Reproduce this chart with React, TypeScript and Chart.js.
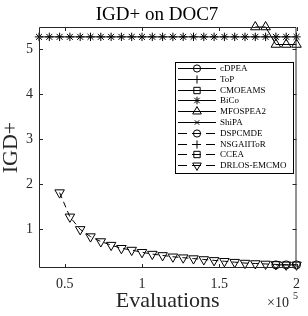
import { useEffect, useRef } from 'react';
import { Chart, registerables } from 'chart.js';
import { drawPoint } from 'chart.js/helpers';

Chart.register(...registerables);

const evaluations = [
  33333, 40000, 46667, 53333, 60000, 66667, 73333, 80000, 86667, 93333,
  100000, 106667, 113333, 120000, 126667, 133333, 140000, 146667, 153333, 160000,
  166667, 173333, 180000, 186667, 193333, 200000,
];

const cDPEA = [null, null, null, null, null, null, null, null, null, null, null, null, null, null, null, null, null, null, null, null, null, null, null, 0.2, 0.2, 0.2];
const ToP: (number | null)[] = [];
const CMOEAMS: (number | null)[] = [];
const BiCo = [5.28, 5.28, 5.28, 5.28, 5.28, 5.28, 5.28, 5.28, 5.28, 5.28, 5.28, 5.28, 5.28, 5.28, 5.28, 5.28, 5.28, 5.28, 5.28, 5.28, 5.28, 5.28, 5.28, 5.28, 5.28, 5.28];
const MFOSPEA2 = [null, null, null, null, null, null, null, null, null, null, null, null, null, null, null, null, null, null, null, null, null, 5.5, 5.5, 5.11, 5.11, 5.11];
const ShiPA: (number | null)[] = [];
const DSPCMDE: (number | null)[] = [];
const NSGAIIToR: (number | null)[] = [];
const CCEA: (number | null)[] = [];
const DRLOS_EMCMO = [null, null, 1.81, 1.27, 0.99, 0.83, 0.72, 0.64, 0.57, 0.53, 0.48, 0.44, 0.41, 0.38, 0.36, 0.34, 0.32, 0.3, 0.28, 0.26, 0.24, 0.23, 0.22, 0.21, 0.2, 0.2];

const xTicks = [50000, 100000, 150000, 200000];
const yTicks = [1, 2, 3, 4, 5];

const series = [
  { name: 'cDPEA', values: cDPEA, style: 'circle', rot: 0, r: 4, dashed: false },
  { name: 'ToP', values: ToP, style: 'cross', rot: 0, r: 4.5, dashed: false },
  { name: 'CMOEAMS', values: CMOEAMS, style: 'rect', rot: 0, r: 5, dashed: false },
  { name: 'BiCo', values: BiCo, style: 'star', rot: 0, r: 4.2, dashed: false },
  { name: 'MFOSPEA2', values: MFOSPEA2, style: 'triangle', rot: 0, r: 5.5, dashed: false },
  { name: 'ShiPA', values: ShiPA, style: 'crossRot', rot: 0, r: 3.5, dashed: false },
  { name: 'DSPCMDE', values: DSPCMDE, style: 'circle', rot: 0, r: 4, dashed: true },
  { name: 'NSGAIIToR', values: NSGAIIToR, style: 'cross', rot: 0, r: 4.5, dashed: true },
  { name: 'CCEA', values: CCEA, style: 'rect', rot: 0, r: 5, dashed: true },
  { name: 'DRLOS-EMCMO', values: DRLOS_EMCMO, style: 'triangle', rot: 180, r: 5.5, dashed: true },
];

const FONT = "'Liberation Serif', 'Times New Roman', serif";
const TXT = '#262626';

const decorPlugin = {
  id: 'decor',
  afterDatasetsDraw(chart: any) {
    const { ctx, chartArea } = chart;
    const { left, right, top, bottom } = chartArea;
    const xs = chart.scales.x;
    const ys = chart.scales.y;
    ctx.save();
    ctx.strokeStyle = TXT;
    ctx.lineWidth = 1;
    ctx.setLineDash([]);
    ctx.beginPath();
    ctx.rect(left + 0.5, top + 0.5, right - left - 1, bottom - top - 1);
    ctx.stroke();
    // inner ticks
    ctx.beginPath();
    for (const v of yTicks) {
      const py = Math.round(ys.getPixelForValue(v)) + 0.5;
      ctx.moveTo(left, py); ctx.lineTo(left + 4, py);
      ctx.moveTo(right, py); ctx.lineTo(right - 4, py);
    }
    for (const v of xTicks) {
      const px = Math.round(xs.getPixelForValue(v)) + 0.5;
      ctx.moveTo(px, bottom); ctx.lineTo(px, bottom - 4);
      ctx.moveTo(px, top); ctx.lineTo(px, top + 4);
    }
    ctx.stroke();

    // titles
    ctx.fillStyle = '#000';
    ctx.textAlign = 'center';
    ctx.textBaseline = 'alphabetic';
    ctx.font = `19px ${FONT}`;
    ctx.fillText('IGD+ on DOC7', 157, 20);
    ctx.fillStyle = TXT;
    ctx.font = `22px ${FONT}`;
    ctx.fillText('Evaluations', (left + right) / 2, 307);
    ctx.save();
    ctx.translate(17, (top + bottom) / 2);
    ctx.rotate(-Math.PI / 2);
    ctx.fillText('IGD+', 0, 0);
    ctx.restore();
    ctx.textAlign = 'left';
    ctx.font = `14px ${FONT}`;
    ctx.fillText('\u00d710', 267, 307);
    ctx.font = `10px ${FONT}`;
    ctx.fillText('5', 293, 299);

    // legend
    const lx = 175, ly = 62, lw = 118, lh = 111;
    ctx.fillStyle = '#fff';
    ctx.fillRect(lx + 0.5, ly + 0.5, lw, lh);
    ctx.strokeStyle = '#000';
    ctx.strokeRect(lx + 0.5, ly + 0.5, lw, lh);
    ctx.font = `9px ${FONT}`;
    ctx.textBaseline = 'middle';
    series.forEach((s, i) => {
      const cy = Math.round(68 + i * 10.8) + 0.5;
      ctx.strokeStyle = '#000';
      ctx.lineWidth = 1;
      ctx.setLineDash(s.dashed ? [9, 5] : []);
      ctx.beginPath();
      ctx.moveTo(178, cy);
      ctx.lineTo(216, cy);
      ctx.stroke();
      ctx.setLineDash([]);
      ctx.fillStyle = 'rgba(0,0,0,0)';
      drawPoint(ctx, { pointStyle: s.style, radius: s.r * 0.9, rotation: s.rot, borderWidth: 1 } as any, 197, cy);
      ctx.fillStyle = '#000';
      ctx.fillText(s.name, 220, cy);
    });
    ctx.restore();
  },
};

export default function App() {
  const ref = useRef<HTMLCanvasElement>(null);
  useEffect(() => {
    document.body.style.margin = '0';
    const chart = new Chart(ref.current!, {
      type: 'line',
      data: {
        datasets: series.map((s) => ({
          label: s.name,
          data: evaluations.map((x, i) => ({ x, y: s.values[i] ?? null })),
          borderColor: '#000',
          backgroundColor: 'rgba(0,0,0,0)',
          borderWidth: 1,
          borderDash: s.dashed ? [6, 4] : [],
          pointStyle: s.style as any,
          pointRadius: s.r,
          pointRotation: s.rot,
          pointBorderColor: '#000',
          pointBackgroundColor: 'rgba(0,0,0,0)',
          pointBorderWidth: 1,
          fill: false,
          tension: 0,
          spanGaps: false,
          clip: false as any,
        })),
      },
      options: {
        animation: false,
        responsive: false,
        devicePixelRatio: 1,
        layout: { padding: { top: 27, right: 6, left: 0, bottom: 0 } },
        plugins: { legend: { display: false }, tooltip: { enabled: false }, title: { display: false } },
        scales: {
          x: {
            type: 'linear',
            min: 33333.33,
            max: 200000,
            grid: { display: false, drawTicks: false },
            border: { display: false },
            afterBuildTicks: (s: any) => { s.ticks = xTicks.map((v) => ({ value: v })); },
            afterFit: (s: any) => { s.height = 48; },
            ticks: {
              autoSkip: false,
              maxRotation: 0,
              padding: 8,
              color: TXT,
              font: { family: FONT, size: 14 },
              callback: (v: any) => String(Number(v) / 100000),
            },
          },
          y: {
            type: 'linear',
            min: 0.13,
            max: 5.5,
            grid: { display: false, drawTicks: false },
            border: { display: false },
            afterBuildTicks: (s: any) => { s.ticks = yTicks.map((v) => ({ value: v })); },
            afterFit: (s: any) => { s.width = 39; },
            ticks: {
              autoSkip: false,
              padding: 6,
              color: TXT,
              font: { family: FONT, size: 14 },
              callback: (v: any) => String(v),
            },
          },
        },
      },
      plugins: [decorPlugin],
    });
    return () => chart.destroy();
  }, []);
  return <canvas ref={ref} width={308} height={316} style={{ display: 'block' }} />;
}
